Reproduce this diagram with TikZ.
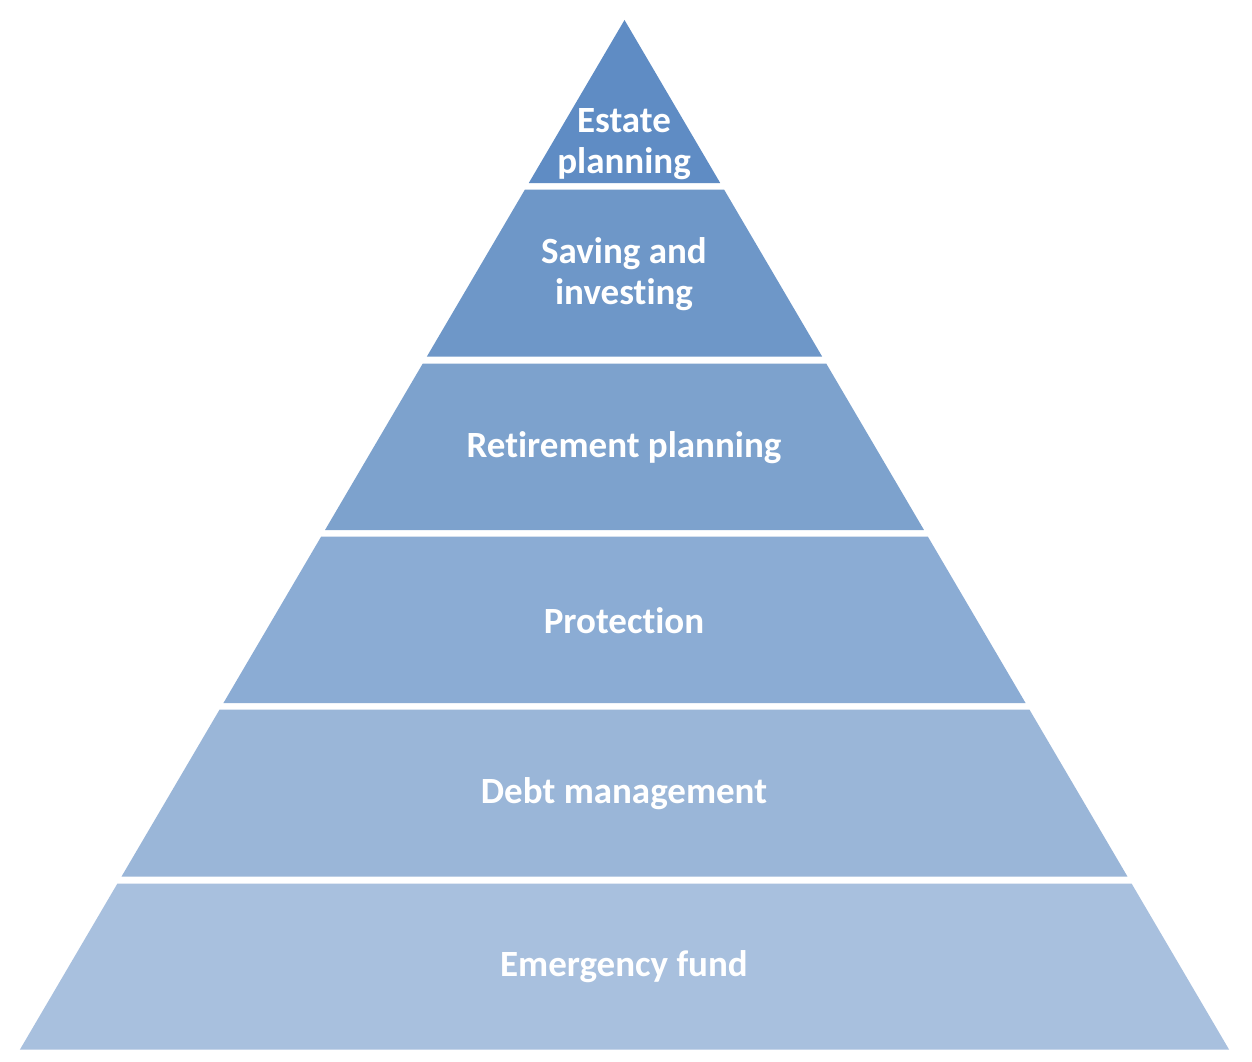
\documentclass[tikz,border=0pt]{standalone}
\usepackage{fontspec}
\setmainfont{Carlito}[Ligatures=NoCommon]
\definecolor{cA}{RGB}{95,140,196}
\definecolor{cB}{RGB}{110,151,200}
\definecolor{cC}{RGB}{125,162,205}
\definecolor{cD}{RGB}{139,172,212}
\definecolor{cE}{RGB}{154,182,216}
\definecolor{cF}{RGB}{168,192,222}
\begin{document}
\begin{tikzpicture}[x=1pt,y=-1pt,
  lbl/.style={text=white,font=\fontsize{37}{41}\selectfont\bfseries,align=center,inner sep=0pt}]
\useasboundingbox (0,0) rectangle (1252,1062);
\fill[white] (0,0) rectangle (1252,1062);
% apex (624.5,20), base y=1049.5, half-width at base 604.5 ; dx/dy = 0.5872
\def\ax{624.5}
\def\ay{20}
\def\k{0.5872}
\newcommand\band[3]{%
  \fill[#1] ({\ax-\k*(#2-\ay)},#2) -- ({\ax+\k*(#2-\ay)},#2) -- ({\ax+\k*(#3-\ay)},#3) -- ({\ax-\k*(#3-\ay)},#3) -- cycle;}
\fill[cA] (\ax,\ay) -- ({\ax+\k*163},183) -- ({\ax-\k*163},183) -- cycle;
\band{cB}{189.5}{356.5}
\band{cC}{363.5}{530}
\band{cD}{536.5}{703}
\band{cE}{709.5}{876.5}
\band{cF}{883.5}{1049.5}
\node[lbl] (l1) at (624,144) {Estate\\planning};
\node[lbl] (l2) at (624,274) {Saving and\\investing};
\node[lbl] (l3) at (624,448) {Retirement planning};
\node[lbl] (l4) at (624,621) {Protection};
\node[lbl] (l5) at (624,794) {Debt management};
\node[lbl] (l6) at (624,967) {Emergency fund};
\end{tikzpicture}
\end{document}
